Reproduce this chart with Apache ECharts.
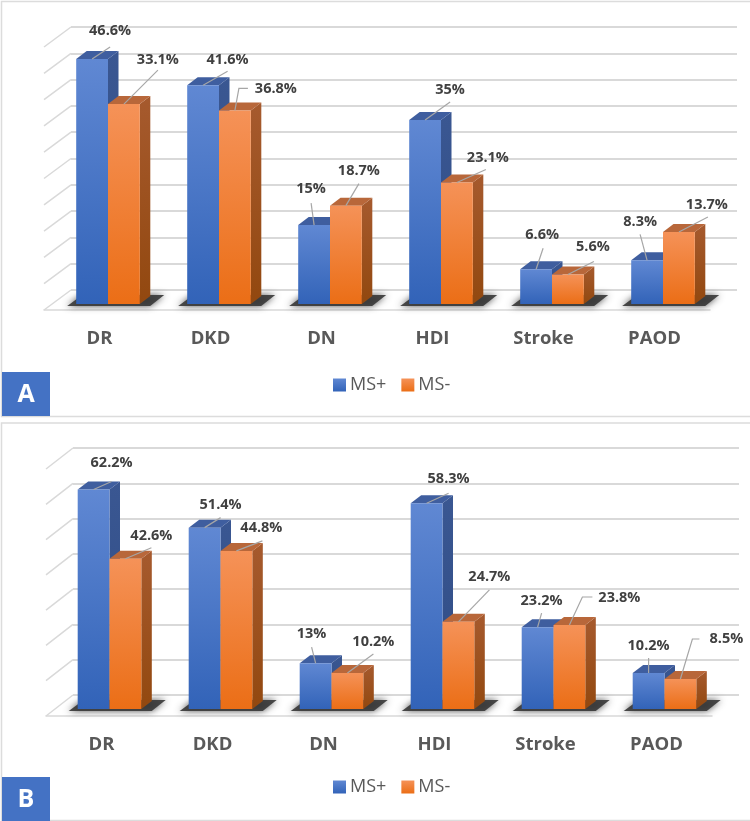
<!DOCTYPE html>
<html>
<head>
<meta charset="utf-8">
<style>html,body{margin:0;padding:0;background:#fff}#c{width:750px;height:821px}</style>
<script src="https://cdn.jsdelivr.net/npm/echarts@6/dist/echarts.min.js"></script>
</head>
<body>
<div id="c"></div>
<script>
const categories = ['DR','DKD','DN','HDI','Stroke','PAOD'];
const seriesNames = ['MS+','MS-'];
// bar heights
const aPlus  = [46.6,41.6,15,35,6.6,8.3];
const aMinus = [38.0,36.8,18.7,23.1,5.6,13.7];
const bPlus  = [62.2,51.4,13,58.3,23.2,10.2];
const bMinus = [42.6,44.8,10.2,24.7,23.8,8.5];
// printed data labels
const aPlusLabels  = ['46.6%','41.6%','15%','35%','6.6%','8.3%'];
const aMinusLabels = ['33.1%','36.8%','18.7%','23.1%','5.6%','13.7%'];
const bPlusLabels  = ['62.2%','51.4%','13%','58.3%','23.2%','10.2%'];
const bMinusLabels = ['42.6%','44.8%','10.2%','24.7%','23.8%','8.5%'];
// value-axis ticks
const aTicks = [0,5,10,15,20,25,30,35,40,45,50];
const bTicks = [0,10,20,30,40,50,60,70];
// label placement relative to the bar's top centre: [label dx, label dy, leader points...]
const aPlusPlace  = [[18,-28,[18,-12]],[24.5,-25,[24.5,-14]],[-3,-36,[-3,-22]],[25,-30,[25,-18]],[6,-34,[7,-21]],[-7,-38,[-7,-26]]];
const aMinusPlace = [[34,-44,[34,-34]],[41,-22,[4,-22],[13,-22]],[13,-35,[13,-22]],[31,-25,[29,-13]],[25,-28,[26,-13]],[28,-27,[29,-15]]];
const bPlusPlace  = [[18,-27,[18,-8]],[16,-23,[16,-10]],[-4,-29,[-4,-16]],[22,-24,[22,-10]],[4,-26,[4,-14]],[0,-27,[0,-15]]];
const bMinusPlace = [[26,-23,[26,-11]],[25,-23,[26,-10]],[26,-31,[26,-19]],[31,-45,[31,-32]],[50,-27,[13,-28],[23,-28]],[46,-40,[12,-40],[19,-40]]];

const FONT = '"Open Sans", "Noto Sans", sans-serif';
const grad = (a,b)=>({type:'linear',x:0,y:0,x2:0,y2:1,colorStops:[{offset:0,color:a},{offset:1,color:b}]});
const BLUE = {front:grad('#6088D3','#3263B8'), side:grad('#3A5792','#2F4C85'), top:'#3F5E9F'};
const ORANGE = {front:grad('#F59258','#EB6E16'), side:grad('#A65A2E','#92480F'), top:'#B8673A'};
const GRID_COLOR = '#d9d9d9';

const panels = [
 {wall:{left:71,top:27,height:263}, front:{left:44,top:47,height:263}, max:50, interval:5, ticks:aTicks, shift:[8.5,-6], depth:[10.5,-8],
  legendTop:380, plus:aPlus, minus:aMinus, plusL:aPlusLabels, minusL:aMinusLabels, plusP:aPlusPlace, minusP:aMinusPlace},
 {wall:{left:73,top:448,height:247}, front:{left:46,top:469,height:247}, max:70, interval:10, ticks:bTicks, shift:[8,-7], depth:[10.5,-8],
  legendTop:782, plus:bPlus, minus:bMinus, plusL:bPlusLabels, minusL:bMinusLabels, plusP:bPlusPlace, minusP:bMinusPlace}
];

const grids=[], xAxes=[], yAxes=[], series=[], legends=[], graphics=[];
const BAND_RATIO = 0.2865;

panels.forEach((p,pi)=>{
  const wi = grids.length, fi = wi+1;
  grids.push({left:p.wall.left,top:p.wall.top,width:666,height:p.wall.height,containLabel:false});
  grids.push({left:p.front.left,top:p.front.top,width:666,height:p.front.height,containLabel:false});
  xAxes.push({gridIndex:wi,type:'category',data:categories,show:false});
  xAxes.push({gridIndex:fi,type:'category',data:categories,
    axisTick:{show:false},
    axisLine:{show:true,lineStyle:{color:GRID_COLOR,width:1.5}},
    axisLabel:{color:'#595959',fontFamily:FONT,fontWeight:'bold',fontSize:18.5,margin:19,interval:0}});
  yAxes.push({gridIndex:wi,type:'value',min:0,max:p.max,interval:p.interval,
    axisLine:{show:false},axisTick:{show:false},axisLabel:{show:false},
    splitLine:{show:true,lineStyle:{color:GRID_COLOR,width:2}}});
  yAxes.push({gridIndex:fi,type:'value',min:0,max:p.max,interval:p.interval,show:false,splitLine:{show:false}});

  // side-wall lines and floor edge, through the value scale of the front plane
  series.push({type:'custom',silent:true,z:1,xAxisIndex:fi,yAxisIndex:fi,
    data:p.ticks.map(t=>[0,t]),
    renderItem(params,api){
      const c = api.coord([0,api.value(1)]);
      const band = api.size([1,0])[0];
      const x0 = c[0]-band/2;
      const dx = p.wall.left-p.front.left, dy = p.wall.top-p.front.top;
      return {type:'line',shape:{x1:x0,y1:c[1],x2:x0+dx,y2:c[1]+dy},
        style:{stroke:GRID_COLOR,lineWidth:1.5}};
    }});

  // floor shadows
  series.push({type:'custom',silent:true,z:2,xAxisIndex:fi,yAxisIndex:fi,
    data:categories.map((c,i)=>[i,0]),
    renderItem(params,api){
      const c = api.coord([api.value(0),0]);
      const band = api.size([1,0])[0], w = band*BAND_RATIO;
      const L = c[0]+p.shift[0]-w, B = c[1]+p.shift[1];
      return {type:'polygon',shape:{points:[[L-9,B+2],[L+6,B-9],[L+88,B-9],[L+74,B+2]]},
        style:{fill:'rgba(55,55,55,0.9)',shadowBlur:7,shadowColor:'rgba(40,40,40,0.9)'}};
    }});

  const barSeries = (name,vals,side,pal)=>({
    type:'custom',name,z:3,xAxisIndex:fi,yAxisIndex:fi,silent:true,
    itemStyle:{color:pal.front},
    data:vals.map((v,i)=>[i,v]),
    renderItem(params,api){
      const c = api.coord([api.value(0),api.value(1)]);
      const z = api.coord([api.value(0),0]);
      const band = api.size([1,0])[0], w = band*BAND_RATIO;
      const cx = c[0]+p.shift[0];
      const x0 = side<0 ? cx-w : cx, x1 = x0+w;
      const yT = c[1]+p.shift[1], yB = z[1]+p.shift[1];
      const [dx,dy] = p.depth;
      return {type:'group',children:[
        {type:'polygon',shape:{points:[[x1,yT],[x1+dx,yT+dy],[x1+dx,yB+dy],[x1,yB]]},style:{fill:pal.side}},
        {type:'polygon',shape:{points:[[x0,yT],[x0+dx,yT+dy],[x1+dx,yT+dy],[x1,yT]]},style:{fill:pal.top}},
        {type:'rect',shape:{x:x0,y:yT,width:w,height:yB-yT},style:{fill:pal.front}}
      ]};
    }});
  series.push(barSeries(seriesNames[0],p.plus,-1,BLUE));
  series.push(barSeries(seriesNames[1],p.minus,1,ORANGE));

  const labelSeries = (vals,labels,place,side)=>({
    type:'custom',silent:true,z:5,xAxisIndex:fi,yAxisIndex:fi,
    data:vals.map((v,i)=>[i,v]),
    renderItem(params,api){
      const i = api.value(0);
      const c = api.coord([i,api.value(1)]);
      const band = api.size([1,0])[0], w = band*BAND_RATIO;
      const ax = c[0]+p.shift[0]+side*w/2, ay = c[1]+p.shift[1];
      const pl = place[i];
      const pts = [[ax,ay]].concat(pl.slice(2).map(q=>[ax+q[0],ay+q[1]]));
      return {type:'group',children:[
        {type:'polyline',shape:{points:pts},style:{stroke:'#a6a6a6',lineWidth:1.2,fill:'none'}},
        {type:'text',style:{x:ax+pl[0],y:ay+pl[1],text:labels[i],align:'center',verticalAlign:'middle',
          fill:'#404040',font:'bold 14.5px '+FONT}}
      ]};
    }});
  series.push(labelSeries(p.plus,p.plusL,p.plusP,-1));
  series.push(labelSeries(p.minus,p.minusL,p.minusP,1));

  legends.push({data:seriesNames,left:333,top:p.legendTop-4,itemWidth:13,itemHeight:13,itemGap:15,
    icon:'rect',selectedMode:false,padding:0,
    textStyle:{color:'#595959',fontFamily:FONT,fontSize:18,padding:[0,0,0,-1]}});
});

// panel frames and letter tags
[[1.5,1.5,415,'A',372],[1.5,423,397.5,'B',777]].forEach(([x,y,h,t,tagY])=>{
  graphics.push({type:'rect',z:0,shape:{x,y,width:760,height:h},style:{fill:'#fff',stroke:'#dcdcdc',lineWidth:1.5}});
  graphics.push({type:'rect',z:10,shape:{x:2,y:tagY,width:48,height:44},style:{fill:'#4472C4'}});
  graphics.push({type:'text',z:11,style:{x:26,y:tagY+23,text:t,align:'center',verticalAlign:'middle',fill:'#fff',font:'bold 25px '+FONT}});
});

const chart = echarts.init(document.getElementById('c'),null,{renderer:'canvas'});
chart.setOption({
  animation:false,backgroundColor:'#fff',
  grid:grids,xAxis:xAxes,yAxis:yAxes,series,legend:legends,
  graphic:{elements:graphics}
});
</script>
</body>
</html>
